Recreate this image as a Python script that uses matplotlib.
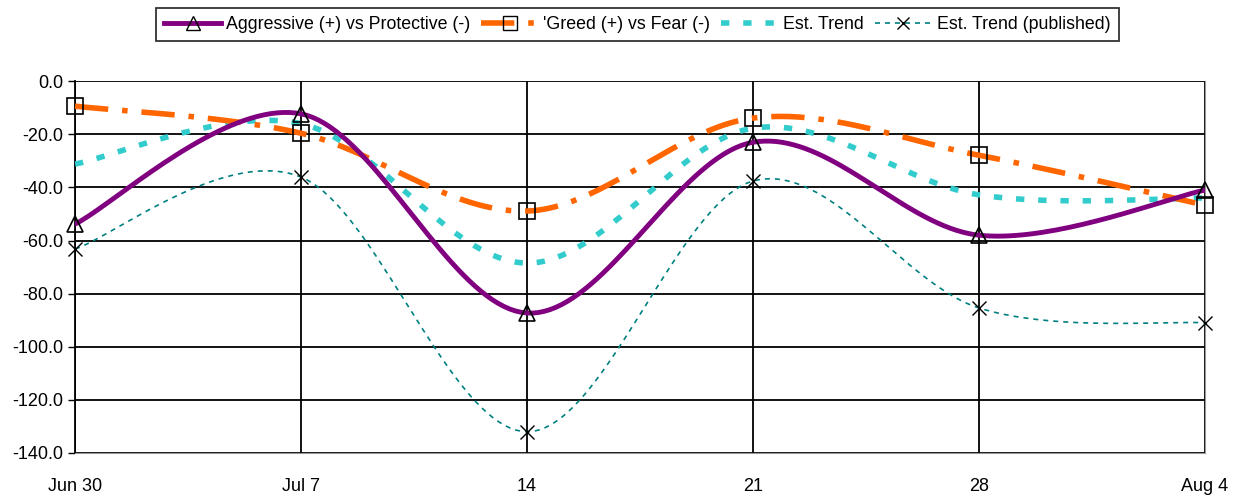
import numpy as np
import matplotlib
matplotlib.use('Agg')
import matplotlib.pyplot as plt
from matplotlib.lines import Line2D
from matplotlib.ticker import FuncFormatter

plt.rcParams['font.family'] = ['Liberation Sans', 'DejaVu Sans']

# Data
dates = ['Jun 30', 'Jul 7', '14', '21', '28', 'Aug 4']
aggressive = [-53.8, -12.3, -87.3, -23.0, -58.0, -41.0]
greed = [-9.4, -19.6, -48.9, -13.9, -27.9, -46.7]
est_trend = [-31.2, -16.0, -68.5, -17.7, -42.8, -44.0]
est_published = [-63.2, -36.1, -132.0, -37.6, -85.4, -91.0]

x = np.arange(len(dates))


def smooth(xs, ys, sx=226.0, sy=2.657, n=40):
    # Excel-style smoothed line: Catmull-Rom Bezier in screen-like space
    P = np.column_stack([np.asarray(xs, float) * sx, np.asarray(ys, float) * sy])
    ext = np.vstack([P[0], P, P[-1]])
    out = []
    t = np.linspace(0, 1, n)[:, None]
    for i in range(len(P) - 1):
        p0, p1, p2, p3 = ext[i], ext[i + 1], ext[i + 2], ext[i + 3]
        c1 = p1 + (p2 - p0) / 6
        c2 = p2 - (p3 - p1) / 6
        seg = ((1 - t) ** 3) * p1 + 3 * ((1 - t) ** 2) * t * c1 + 3 * (1 - t) * t ** 2 * c2 + t ** 3 * p2
        out.append(seg if i == 0 else seg[1:])
    out = np.vstack(out)
    return out[:, 0] / sx, out[:, 1] / sy


fig = plt.figure(figsize=(12.4, 4.98), dpi=100)
ax = fig.add_axes([0.0605, 0.0904, 0.9113, 0.7466])

purple = '#800080'
orange = '#FF6600'
cyan = '#33CCCC'
teal = '#008080'

sx_, sy_ = smooth(x, est_published)
ax.plot(sx_, sy_, color=teal, lw=1.2, ls=(0, (3, 3)), zorder=3)
ax.plot(x, est_published, ls='none', marker='x', color='black', ms=10, mew=1, zorder=6, clip_on=False)

sx_, sy_ = smooth(x, est_trend)
ax.plot(sx_, sy_, color=cyan, lw=4, ls=(0, (1.5, 2.5)), zorder=4)

sx_, sy_ = smooth(x, greed)
ax.plot(sx_, sy_, color=orange, lw=4, ls=(0, (6, 2.5, 1, 2.5)), zorder=4)
ax.plot(x, greed, ls='none', marker='s', mfc='none', mec='black', ms=12, mew=1.2, zorder=6, clip_on=False)

sx_, sy_ = smooth(x, aggressive)
ax.plot(sx_, sy_, color=purple, lw=3.5, zorder=5)
ax.plot(x, aggressive, ls='none', marker='^', mfc='none', mec='black', ms=12, mew=1.2, zorder=6, clip_on=False)

ax.set_xlim(0, len(dates) - 1)
ax.set_ylim(-140, 0)
ax.set_xticks(x)
ax.set_xticklabels(dates)
ax.set_yticks(np.arange(-140, 1, 20))
ax.yaxis.set_major_formatter(FuncFormatter(lambda v, p: '%.1f' % v))
ax.tick_params(axis='both', labelsize=13, length=5, width=1, colors='black')
ax.tick_params(axis='x', length=0, pad=18)
ax.grid(True, color='black', lw=1.3)
ax.set_axisbelow(True)
ax.spines['top'].set_visible(False)
ax.spines['left'].set_color('black')
ax.spines['left'].set_linewidth(1.3)
ax.spines['bottom'].set_color('#999999')
ax.spines['right'].set_color('#999999')

handles = [
    Line2D([], [], color=purple, lw=3.5, marker='^', mfc='none', mec='black', ms=10),
    Line2D([], [], color=orange, lw=4, ls=(0, (6, 2.5, 1, 2.5)), marker='s', mfc='none', mec='black', ms=10),
    Line2D([], [], color=cyan, lw=4, ls=(0, (1.5, 2.5))),
    Line2D([], [], color=teal, lw=1.2, ls=(0, (3, 3)), marker='x', mec='black', ms=9),
]
labels = ['Aggressive (+) vs Protective (-)', "'Greed (+) vs Fear (-)", 'Est. Trend', 'Est. Trend (published)']
leg = fig.legend(handles, labels, loc='center', bbox_to_anchor=(0.514, 0.95), ncol=4,
                 fontsize=12.8, frameon=True, fancybox=False, edgecolor='black',
                 handlelength=3.2, handletextpad=0.3, columnspacing=0.6, borderpad=0.45)
leg.get_frame().set_linewidth(1.3)

fig.savefig('out.png', dpi=100)
